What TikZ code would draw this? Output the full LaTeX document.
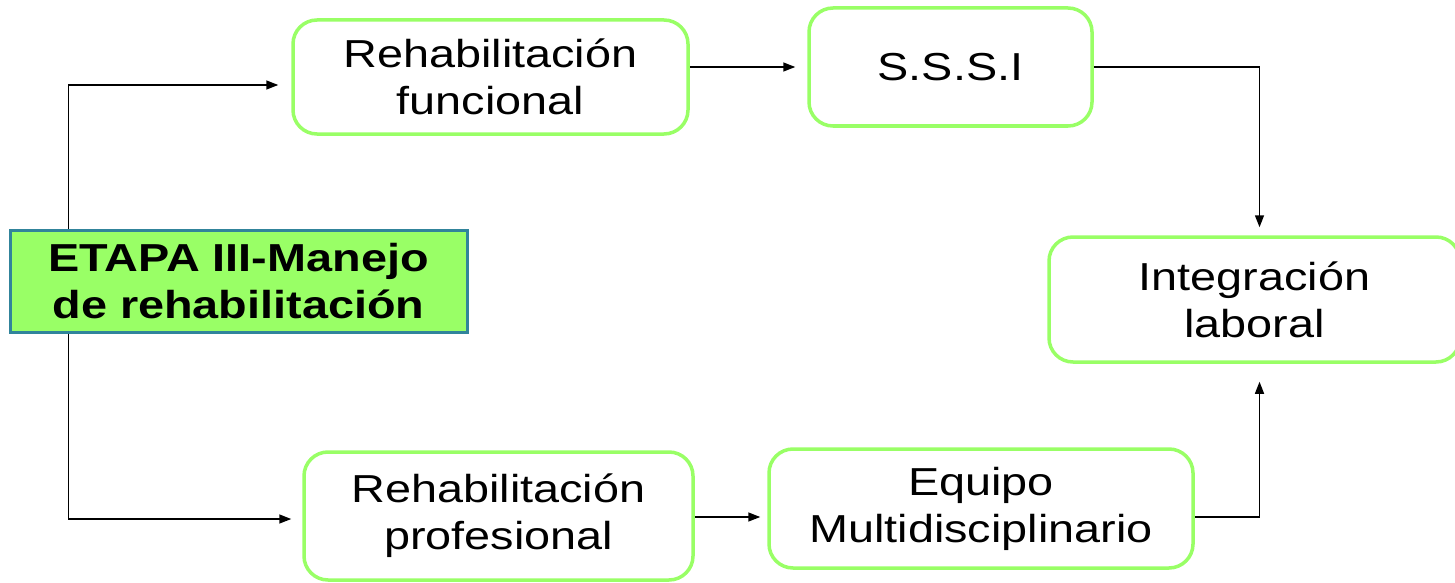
\documentclass[tikz,border=0pt]{standalone}
\usepackage{fontspec}
\setmainfont[FakeStretch=1.2]{Liberation Sans}
\usetikzlibrary{arrows.meta,calc}
\definecolor{bgreen}{HTML}{99FF66}
\definecolor{tealb}{HTML}{31849B}
\tikzset{
  box/.style={draw=bgreen, line width=3.5pt, rounded corners=24pt, fill=white,
    align=center, inner sep=0pt, font=\fontsize{39}{47}\selectfont},
  stage/.style={draw=tealb, line width=3pt, fill=bgreen, align=center, inner sep=0pt,
    font=\fontsize{39}{47}\selectfont\bfseries},
  arr/.style={line width=1.5pt, -{Triangle[length=12pt,width=9pt]}},
  ln/.style={line width=1.5pt}
}
\begin{document}
\begin{tikzpicture}[x=1pt,y=-1pt]
\useasboundingbox (0,0) rectangle (1455,583);
\node[stage, minimum width=457pt, minimum height=102pt] (etapa) at (238.5,281) {ETAPA III-Manejo\\de rehabilitación};
\node[box, minimum width=395pt, minimum height=114pt] (rf) at (490.5,77) {Rehabilitación\\funcional};
\node[box, minimum width=283pt, minimum height=118pt] (sssi) at (950.5,67) {S.S.S.I};
\node[box, minimum width=411pt, minimum height=125pt] (il) at (1254.5,299.5) {Integración\\laboral};
\node[box, minimum width=389pt, minimum height=128pt] (rp) at (498.5,516) {Rehabilitación\\profesional};
\node[box, minimum width=424pt, minimum height=119pt] (eq) at (981,508.5) {Equipo\\Multidisciplinario};
\coordinate (top) at ($(etapa.north west)+(60,0)$);
\coordinate (bot) at ($(etapa.south west)+(60,0)$);
\draw[arr, shorten >=13pt] (top) |- ($(rf.west)+(0,8)$);
\draw[arr, shorten >=11pt] (bot) |- ($(rp.west)+(0,3)$);
\draw[arr, shorten >=12pt] (rf.east |- sssi.west) -- (sssi.west);
\draw[arr, shorten >=8pt] (sssi.east) -| ($(il.north)+(5,0)$);
\draw[arr, shorten >=7pt] ($(rp.east)+(0,1)$) -- ($(rp.east -| eq.west)+(0,1)$);
\draw[arr, shorten >=18pt] ($(eq.east |- rp.east)+(0,1)$) -| ($(il.south)+(5,0)$);
\end{tikzpicture}
\end{document}
